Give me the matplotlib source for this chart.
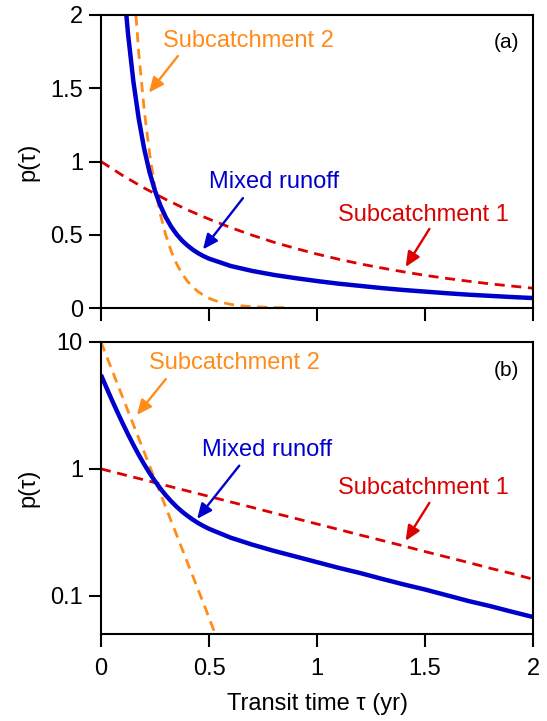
from matplotlib import pyplot as plt

plt.rcParams['font.family'] = ['Liberation Sans', 'DejaVu Sans']

# transit time grid (yr) and curves
t_sub1 = [0.0, 0.1, 0.2, 0.3, 0.4, 0.5, 0.6, 0.7, 0.8, 0.9, 1.0,
          1.1, 1.2, 1.3, 1.4, 1.5, 1.6, 1.7, 1.8, 1.9, 2.0]
p_sub1 = [1.0, 0.905, 0.819, 0.741, 0.670, 0.607, 0.549, 0.497, 0.449, 0.407, 0.368,
          0.333, 0.301, 0.273, 0.247, 0.223, 0.202, 0.183, 0.165, 0.150, 0.135]

t_sub2 = [0.0, 0.025, 0.05, 0.075, 0.1, 0.125, 0.15, 0.175, 0.2, 0.225, 0.25,
          0.275, 0.3, 0.325, 0.35, 0.375, 0.4, 0.425, 0.45, 0.475, 0.5, 0.525,
          0.55, 0.6, 0.65, 0.7, 0.75, 0.8, 0.85]
p_sub2 = [10.0, 7.788, 6.065, 4.724, 3.679, 2.865, 2.231, 1.738, 1.353, 1.054, 0.821,
          0.639, 0.498, 0.388, 0.302, 0.235, 0.183, 0.143, 0.111, 0.087, 0.067, 0.052,
          0.041, 0.025, 0.015, 0.009, 0.006, 0.003, 0.002]
sub2_log_end = 22  # orange curve stops near 0.52 yr in panel (b)

t_mix = [0.0, 0.025, 0.05, 0.075, 0.1, 0.125, 0.15, 0.175, 0.2, 0.225, 0.25,
         0.275, 0.3, 0.325, 0.35, 0.375, 0.4, 0.425, 0.45, 0.475, 0.5,
         0.6, 0.7, 0.8, 0.9, 1.0, 1.1, 1.2, 1.3, 1.4, 1.5, 1.6, 1.7, 1.8, 1.9, 2.0]
p_mix = [5.5, 4.382, 3.508, 2.826, 2.292, 1.874, 1.546, 1.289, 1.086, 0.926, 0.800,
         0.699, 0.619, 0.555, 0.503, 0.461, 0.427, 0.398, 0.374, 0.354, 0.337,
         0.287, 0.253, 0.226, 0.204, 0.184, 0.166, 0.151, 0.136, 0.123, 0.112,
         0.101, 0.091, 0.083, 0.075, 0.068]

x_ticks = [0, 0.5, 1, 1.5, 2]
x_labels = ['0', '0.5', '1', '1.5', '2']
ya_ticks = [0, 0.5, 1, 1.5, 2]
ya_labels = ['0', '0.5', '1', '1.5', '2']
yb_ticks = [0.1, 1, 10]
yb_labels = ['0.1', '1', '10']

blue = '#0000cc'
red = '#dd0000'
orange = '#ff8c1a'
fs = 17

fig = plt.figure(figsize=(5.47, 7.21), dpi=100)
ax1 = fig.add_axes([0.1846, 0.5728, 0.790, 0.4064])
ax2 = fig.add_axes([0.1846, 0.1207, 0.790, 0.405])


def draw(ax, log):
    n2 = sub2_log_end if log else len(t_sub2)
    ax.plot(t_sub1, p_sub1, color=red, lw=2.0, ls=(0, (3.6, 2.4)))
    ax.plot(t_sub2[:n2], p_sub2[:n2], color=orange, lw=2.0, ls=(0, (3.6, 2.4)))
    ax.plot(t_mix, p_mix, color=blue, lw=3.2, solid_capstyle='butt')
    ax.set_xlim(0, 2)
    ax.set_xticks(x_ticks)
    for s in ax.spines.values():
        s.set_linewidth(1.5)
    ax.tick_params(direction='out', length=9, width=1.5, labelsize=fs,
                   top=False, right=False, pad=4)


def arrow(ax, xy, xytext, color):
    ax.annotate('', xy=xy, xytext=xytext,
                arrowprops=dict(arrowstyle='-|>,head_length=0.9,head_width=0.4',
                                color=color, lw=1.7, shrinkA=0, shrinkB=0))


# panel (a), linear
draw(ax1, False)
ax1.set_ylim(0, 2)
ax1.set_yticks(ya_ticks)
ax1.set_yticklabels(ya_labels)
ax1.set_xticklabels([])
ax1.set_ylabel('p(τ)', fontsize=fs, labelpad=8)
ax1.text(0.287, 1.82, 'Subcatchment 2', color=orange, fontsize=fs, va='center')
arrow(ax1, (0.222, 1.47), (0.356, 1.72), orange)
ax1.text(0.50, 0.86, 'Mixed runoff', color=blue, fontsize=fs, va='center')
arrow(ax1, (0.472, 0.40), (0.657, 0.75), blue)
ax1.text(1.097, 0.635, 'Subcatchment 1', color=red, fontsize=fs, va='center')
arrow(ax1, (1.41, 0.28), (1.52, 0.54), red)
ax1.text(1.935, 1.81, '(a)', fontsize=15, ha='right', va='center')

# panel (b), log
draw(ax2, True)
ax2.set_yscale('log')
ax2.set_ylim(0.05, 10)
ax2.set_yticks(yb_ticks)
ax2.set_yticklabels(yb_labels)
ax2.minorticks_off()
ax2.set_xticklabels(x_labels)
ax2.tick_params(axis='x', pad=8)
ax2.set_ylabel('p(τ)', fontsize=fs, labelpad=8)
ax2.set_xlabel('Transit time τ (yr)', fontsize=fs, labelpad=10)
ax2.text(0.222, 6.8, 'Subcatchment 2', color=orange, fontsize=fs, va='center')
arrow(ax2, (0.166, 2.66), (0.30, 5.1), orange)
ax2.text(0.468, 1.41, 'Mixed runoff', color=blue, fontsize=fs, va='center')
arrow(ax2, (0.445, 0.404), (0.64, 1.06), blue)
ax2.text(1.097, 0.708, 'Subcatchment 1', color=red, fontsize=fs, va='center')
arrow(ax2, (1.41, 0.271), (1.52, 0.54), red)
ax2.text(1.935, 6.0, '(b)', fontsize=15, ha='right', va='center')

fig.savefig('out.png', dpi=100)
